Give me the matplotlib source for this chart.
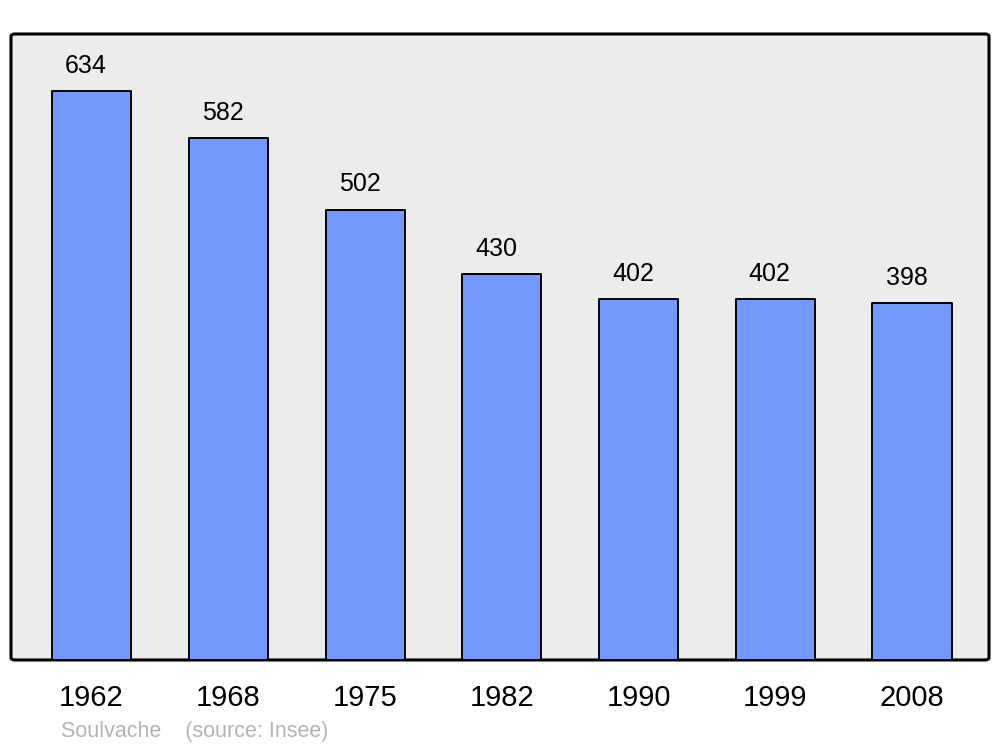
import matplotlib
matplotlib.use("Agg")
import matplotlib.pyplot as plt
from matplotlib.patches import FancyBboxPatch

years = ["1962", "1968", "1975", "1982", "1990", "1999", "2008"]
population = [634, 582, 502, 430, 402, 402, 398]

plt.rcParams["font.family"] = ["Liberation Sans", "DejaVu Sans"]

fig = plt.figure(figsize=(10, 7.47), dpi=100)
ax = fig.add_axes([0.011, 0.1165, 0.978, 0.838])
ax.set_facecolor("none")

# rounded frame behind the bars
frame = FancyBboxPatch((0, 0), 1, 1, boxstyle="round,pad=0,rounding_size=0.004",
                       transform=ax.transAxes, facecolor="#ececec",
                       edgecolor="black", linewidth=2.2, zorder=0, clip_on=False)
ax.add_patch(frame)

x = list(range(len(years)))
bars = ax.bar(x, population, width=0.578, color="#7399ff", edgecolor="black",
              linewidth=1.4, zorder=2)
for b in bars:
    b.set_joinstyle("round")

for xi, v in zip(x, population):
    ax.text(xi - 0.04, v + 15, str(v), ha="center", va="bottom", fontsize=18)

ax.set_xlim(-0.589, 6.563)
ax.set_ylim(0, 698)
ax.set_xticks(x)
ax.set_xticklabels(years, fontsize=21)
ax.tick_params(axis="x", length=0, pad=17)
ax.set_yticks([])
for s in ax.spines.values():
    s.set_visible(False)

fig.text(0.061, 0.007, "Soulvache    (source: Insee)", color="#b4b4b4",
         fontsize=15.5, ha="left", va="bottom")

fig.savefig("out.png", dpi=100)
